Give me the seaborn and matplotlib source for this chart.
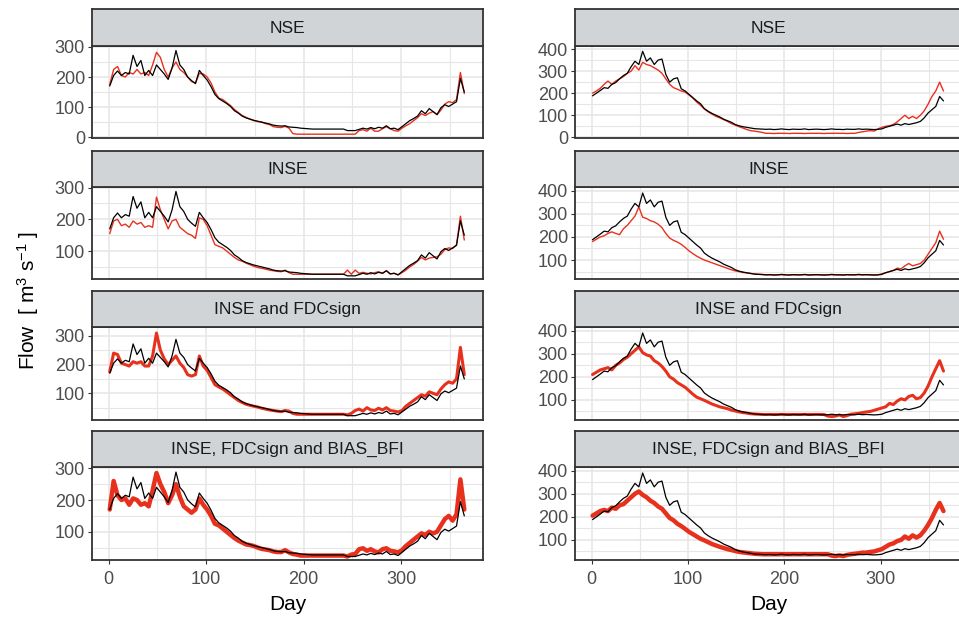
import numpy as np
import matplotlib
matplotlib.use("Agg")
import matplotlib.pyplot as plt
import seaborn as sns

# ---------------------------------------------------------------------------
# data read off the figure (flow, m3/s), sampled every 4 days
# ---------------------------------------------------------------------------
DAY = list(range(1, 366, 4))

PANEL_TITLES = ["NSE", "INSE", "INSE and FDCsign", "INSE, FDCsign and BIAS_BFI"]

obs_left = [
    170, 205, 220, 205, 215, 210, 272, 235, 255, 205,
    222, 205, 240, 225, 210, 192, 230, 288, 240, 225,
    200, 188, 178, 222, 205, 190, 168, 142, 128, 120,
    112, 102, 88, 80, 70, 64, 60, 56, 53, 50,
    47, 44, 40, 38, 37, 38, 34, 33, 32, 30,
    29, 28, 27, 27, 27, 27, 27, 27, 27, 27,
    27, 22, 22, 22, 26, 30, 27, 32, 28, 33,
    30, 38, 28, 30, 25, 35, 45, 55, 62, 70,
    88, 78, 95, 85, 75, 98, 108, 102, 110, 118,
    195, 150]

sim_nse_left = [
    175, 225, 235, 205, 200, 215, 210, 225, 210, 215,
    205, 240, 282, 265, 225, 200, 230, 250, 225, 215,
    200, 185, 180, 212, 210, 200, 180, 150, 130, 125,
    115, 105, 92, 82, 72, 66, 60, 55, 52, 50,
    45, 42, 35, 33, 32, 36, 30, 12, 10, 10,
    10, 10, 10, 10, 10, 10, 10, 10, 10, 10,
    10, 10, 10, 10, 22, 25, 20, 30, 20, 20,
    28, 35, 28, 22, 20, 30, 38, 45, 55, 65,
    78, 72, 80, 85, 75, 90, 110, 118, 115, 125,
    215, 145]

sim_inse_left = [
    155, 195, 200, 180, 185, 175, 195, 185, 190, 175,
    180, 175, 270, 230, 200, 170, 195, 200, 175, 165,
    155, 150, 140, 205, 200, 180, 150, 120, 115, 110,
    100, 90, 80, 72, 68, 62, 57, 52, 48, 46,
    43, 40, 38, 36, 35, 40, 32, 27, 27, 27,
    27, 27, 27, 27, 27, 27, 27, 27, 27, 27,
    27, 40, 27, 40, 30, 33, 30, 28, 32, 35,
    30, 38, 28, 30, 25, 32, 40, 50, 58, 68,
    80, 72, 78, 80, 82, 90, 105, 110, 108, 120,
    210, 135]

sim_fdc_left = [
    175, 240, 235, 205, 200, 195, 210, 205, 210, 195,
    195, 230, 310, 250, 220, 200, 215, 230, 205, 190,
    165, 160, 165, 230, 195, 180, 155, 130, 122, 115,
    105, 95, 85, 75, 68, 62, 58, 55, 52, 48,
    45, 42, 40, 38, 36, 40, 38, 30, 27, 27,
    27, 27, 27, 27, 27, 27, 27, 27, 27, 27,
    27, 25, 30, 40, 45, 38, 50, 42, 40, 48,
    42, 50, 40, 38, 35, 40, 55, 65, 75, 85,
    95, 90, 105, 100, 95, 115, 130, 140, 135, 150,
    260, 165]

sim_bfi_left = [
    170, 260, 215, 200, 205, 185, 205, 200, 185, 190,
    180, 230, 285, 250, 225, 190, 215, 250, 210, 180,
    170, 160, 170, 205, 185, 170, 150, 125, 120, 110,
    100, 90, 80, 72, 66, 60, 58, 55, 50, 46,
    44, 42, 38, 36, 36, 42, 35, 30, 28, 25,
    25, 25, 25, 25, 25, 25, 25, 25, 25, 25,
    25, 22, 28, 30, 45, 48, 40, 45, 38, 35,
    45, 48, 40, 38, 35, 42, 55, 65, 75, 85,
    95, 90, 100, 95, 100, 120, 140, 150, 135, 155,
    265, 170]

obs_right = [
    188, 200, 212, 225, 222, 240, 248, 265, 280, 290,
    320, 345, 330, 390, 345, 360, 330, 350, 355, 285,
    250, 265, 270, 220, 210, 195, 180, 165, 152, 130,
    118, 108, 100, 92, 82, 75, 68, 58, 52, 48,
    45, 42, 39, 38, 37, 36, 37, 35, 36, 38,
    36, 35, 37, 36, 36, 38, 35, 36, 37, 36,
    35, 36, 38, 36, 36, 35, 37, 36, 36, 38,
    36, 37, 36, 35, 36, 38, 45, 50, 55, 60,
    55, 62, 58, 62, 66, 72, 88, 110, 125, 140,
    185, 165]

sim_nse_right = [
    200, 210, 222, 240, 255, 240, 255, 265, 275, 290,
    300, 325, 305, 340, 330, 325, 315, 305, 290, 265,
    240, 225, 218, 210, 205, 192, 178, 160, 145, 128,
    115, 105, 95, 88, 80, 72, 62, 55, 48, 42,
    35, 30, 28, 25, 22, 18, 18, 17, 18, 18,
    18, 17, 18, 18, 18, 17, 18, 18, 18, 18,
    17, 18, 18, 18, 18, 18, 17, 18, 18, 22,
    25, 28, 30, 28, 38, 45, 50, 52, 58, 70,
    85, 100, 85, 95, 85, 100, 120, 150, 185, 210,
    250, 210]

sim_inse_right = [
    180, 190, 200, 205, 215, 222, 215, 210, 235, 250,
    270, 290, 330, 285, 280, 270, 265, 255, 240, 215,
    195, 185, 178, 168, 155, 140, 128, 117, 108, 100,
    94, 88, 82, 76, 70, 64, 58, 53, 50, 46,
    44, 42, 40, 39, 38, 36, 36, 36, 36, 36,
    36, 36, 36, 36, 36, 36, 36, 36, 36, 36,
    36, 36, 36, 36, 36, 36, 36, 36, 36, 36,
    36, 36, 36, 36, 36, 40, 45, 50, 55, 65,
    62, 75, 85, 75, 80, 85, 100, 125, 150, 175,
    225, 190]

sim_fdc_right = [
    210, 220, 230, 235, 240, 230, 250, 260, 275, 285,
    300, 315, 330, 305, 295, 290, 270, 260, 245, 225,
    200, 190, 175, 165, 155, 140, 125, 112, 105, 98,
    90, 82, 76, 70, 66, 62, 56, 52, 48, 45,
    43, 40, 39, 38, 37, 37, 37, 37, 37, 37,
    37, 37, 37, 37, 37, 37, 37, 37, 37, 37,
    37, 30, 28, 30, 35, 28, 32, 38, 40, 42,
    45, 48, 50, 55, 60, 65, 70, 85, 80, 95,
    105, 100, 115, 120, 105, 110, 130, 160, 200, 235,
    270, 225]

sim_bfi_right = [
    205, 215, 225, 230, 225, 240, 235, 250, 255, 270,
    285, 300, 310, 295, 285, 270, 260, 245, 235, 215,
    195, 185, 170, 160, 148, 135, 125, 115, 105, 98,
    90, 82, 76, 70, 65, 60, 56, 52, 48, 46,
    44, 42, 40, 39, 38, 38, 38, 38, 38, 38,
    38, 38, 38, 38, 38, 38, 38, 38, 38, 38,
    38, 38, 32, 30, 33, 30, 35, 38, 40, 42,
    45, 45, 48, 50, 55, 60, 70, 80, 85, 95,
    100, 115, 105, 120, 110, 120, 140, 165, 195, 230,
    260, 225]

SIM_LEFT = [sim_nse_left, sim_inse_left, sim_fdc_left, sim_bfi_left]
SIM_RIGHT = [sim_nse_right, sim_inse_right, sim_fdc_right, sim_bfi_right]

# y limits / ticks per panel
YLIM_LEFT = [(-1, 303), (12, 302), (7, 331), (11, 304)]
YLIM_RIGHT = [(-1, 414), (18, 416), (13, 416), (13, 416)]
YTICKS_LEFT = [[0, 100, 200, 300], [100, 200, 300], [100, 200, 300], [100, 200, 300]]
YTICKS_RIGHT = [[0, 100, 200, 300, 400], [100, 200, 300, 400],
                [100, 200, 300, 400], [100, 200, 300, 400]]

# ---------------------------------------------------------------------------
# styling
# ---------------------------------------------------------------------------
sns.set_theme(style="white")
plt.rcParams['font.family'] = ['Liberation Sans', 'DejaVu Sans']
plt.rcParams['mathtext.fontset'] = 'custom'
plt.rcParams['mathtext.rm'] = 'Liberation Sans'
plt.rcParams['mathtext.it'] = 'Liberation Sans'

W, H = 959, 623
RED = '#E8311D'
BORDER = '#333333'
GRID = '#E6E6E6'
STRIP = '#D0D4D7'
TICKCOL = '#4D4D4D'
RED_LW = [1.0, 1.0, 2.2, 3.2]

# (strip top, panel top, panel bottom) and (left, right), in pixels
ROWS = [(9, 46, 137.5), (151, 187, 279), (291, 327, 420), (431, 467, 560)]
COLS = [(92, 483), (575, 962)]


def rect(x0, ytop, x1, ybot):
    return [x0 / W, 1 - ybot / H, (x1 - x0) / W, (ybot - ytop) / H]


fig = plt.figure(figsize=(W / 100, H / 100), dpi=100)

for c, (x0, x1) in enumerate(COLS):
    obs = obs_left if c == 0 else obs_right
    sims = SIM_LEFT if c == 0 else SIM_RIGHT
    ylims = YLIM_LEFT if c == 0 else YLIM_RIGHT
    yticks = YTICKS_LEFT if c == 0 else YTICKS_RIGHT
    for r, (s_top, p_top, p_bot) in enumerate(ROWS):
        ax = fig.add_axes(rect(x0, p_top, x1, p_bot))
        sns.lineplot(x=DAY, y=sims[r], ax=ax, color=RED, linewidth=RED_LW[r],
                     legend=False, zorder=3)
        sns.lineplot(x=DAY, y=obs, ax=ax, color='black', linewidth=0.9,
                     legend=False, zorder=4)

        ax.set_xlim(-17.2, 384.2)
        ax.set_ylim(*ylims[r])
        ax.set_xticks([0, 100, 200, 300])
        ax.set_xticks([50, 150, 250, 350], minor=True)
        ax.set_yticks(yticks[r])
        lo, hi = ylims[r]
        ax.set_yticks([m for m in [50, 150, 250, 350] if lo < m < hi], minor=True)
        ax.grid(which='major', color=GRID, linewidth=1.1)
        ax.grid(which='minor', color=GRID, linewidth=0.8)
        ax.set_axisbelow(True)
        ax.set_facecolor('white')
        for sp in ax.spines.values():
            sp.set_color(BORDER)
            sp.set_linewidth(1.3)
        ax.tick_params(axis='y', which='major', left=True, length=3, width=0.8,
                       color=BORDER, labelsize=13, labelcolor=TICKCOL, pad=2)
        ax.tick_params(axis='x', which='major', bottom=(r == 3), length=3,
                       width=0.8, color=BORDER, labelsize=13,
                       labelcolor=TICKCOL, pad=5, labelbottom=(r == 3))
        ax.tick_params(which='minor', length=0)
        ax.set_xlabel('')
        ax.set_ylabel('')

        # facet strip
        sax = fig.add_axes(rect(x0, s_top, x1, p_top))
        sax.set_facecolor(STRIP)
        sax.set_xticks([])
        sax.set_yticks([])
        for sp in sax.spines.values():
            sp.set_color(BORDER)
            sp.set_linewidth(1.3)
        sax.text(0.5, 0.48, PANEL_TITLES[r], transform=sax.transAxes,
                 ha='center', va='center', fontsize=12.5, color='#1A1A1A')

    fig.text(0.5 * (x0 + x1) / W, 1 - 605 / H, 'Day', ha='center',
             va='center', fontsize=15, color='black')

fig.text(28 / W, 1 - 300 / H, r'Flow  [ m$^{3}$ s$^{-1}$ ]', rotation=90,
         ha='center', va='center', fontsize=15, color='black')

fig.savefig('out.png', dpi=100)
